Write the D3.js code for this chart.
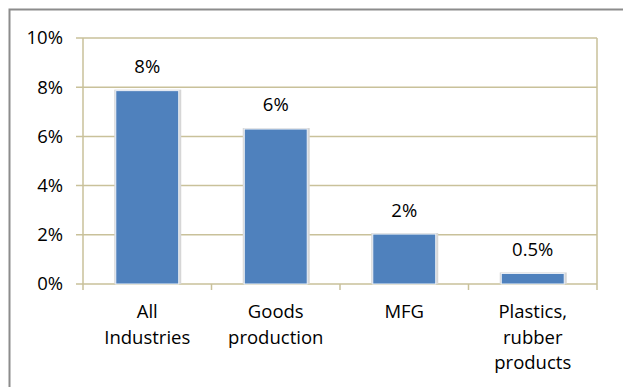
<!DOCTYPE html>
<html>
<head>
<meta charset="utf-8">
<script src="https://cdn.jsdelivr.net/npm/d3@7"></script>
<style>
  body { margin: 0; background: #fff; }
  svg { display: block; font-family: "Open Sans", Lato, sans-serif; }
</style>
</head>
<body>
<svg></svg>
<script>
// data
const categories = [['All', 'Industries'], ['Goods', 'production'], ['MFG'], ['Plastics,', 'rubber', 'products']]
const values = [7.86, 6.3, 2.03, 0.43]
const valueLabels = ['8%', '6%', '2%', '0.5%']
const yTicks = [0, 2, 4, 6, 8, 10]

const width = 623
const height = 387
const plotLeft = 83, plotRight = 597, plotTop = 38, plotBottom = 284
const fontSize = 18.5

const svg = d3.select('svg')
    .attr('width', width)
    .attr('height', height)

// outer frame (runs off right and bottom)
svg.append('rect')
    .attr('x', 9.5).attr('y', 9.5)
    .attr('width', 640).attr('height', 400)
    .attr('fill', 'none')
    .attr('stroke', '#8c8c8c')
    .attr('stroke-width', 2)

const xScale = d3.scaleBand()
    .domain(d3.range(values.length))
    .range([plotLeft, plotRight])
    .paddingInner(0.51)
    .paddingOuter(0.255)

const yScale = d3.scaleLinear()
    .domain([0, 10])
    .range([plotBottom, plotTop])

const gridColor = '#c9c19a'

// gridlines
svg.append('g').selectAll('line').data(yTicks).enter()
    .append('line')
    .attr('x1', plotLeft - 7).attr('x2', plotRight)
    .attr('y1', d => yScale(d)).attr('y2', d => yScale(d))
    .attr('stroke', gridColor)
    .attr('stroke-width', 1.5)

// axis lines
svg.append('line')
    .attr('x1', plotLeft).attr('x2', plotLeft)
    .attr('y1', plotTop).attr('y2', plotBottom + 6)
    .attr('stroke', gridColor).attr('stroke-width', 1.5)
svg.append('line')
    .attr('x1', plotRight).attr('x2', plotRight)
    .attr('y1', plotTop).attr('y2', plotBottom + 6)
    .attr('stroke', gridColor).attr('stroke-width', 1.5)

// category ticks
const step = (plotRight - plotLeft) / values.length
svg.append('g').selectAll('line').data(d3.range(1, values.length)).enter()
    .append('line')
    .attr('x1', i => plotLeft + step * i).attr('x2', i => plotLeft + step * i)
    .attr('y1', plotBottom).attr('y2', plotBottom + 6)
    .attr('stroke', gridColor).attr('stroke-width', 1.5)

// y tick labels
svg.append('g').selectAll('text').data(yTicks).enter()
    .append('text')
    .attr('x', 63)
    .attr('y', d => yScale(d))
    .attr('dy', '0.35em')
    .attr('text-anchor', 'end')
    .attr('font-size', fontSize)
    .attr('fill', '#000')
    .text(d => d + '%')

// bar shadows
svg.append('g').selectAll('rect').data(values).enter()
    .append('rect')
    .attr('x', (v, i) => xScale(i) - 1.5)
    .attr('y', v => yScale(v) - 1)
    .attr('width', xScale.bandwidth() + 4)
    .attr('height', v => plotBottom - yScale(v) + 1)
    .attr('fill', '#d6d6d6')

// bars
svg.append('g').selectAll('rect').data(values).enter()
    .append('rect')
    .attr('x', (v, i) => xScale(i))
    .attr('y', v => yScale(v))
    .attr('width', xScale.bandwidth())
    .attr('height', v => plotBottom - yScale(v))
    .attr('fill', '#4f81bd')
    .attr('stroke', '#eef2f8')
    .attr('stroke-width', 1)

// value labels
svg.append('g').selectAll('text').data(values).enter()
    .append('text')
    .attr('x', (v, i) => xScale(i) + xScale.bandwidth() / 2)
    .attr('y', v => yScale(v) - 24)
    .attr('dy', '0.35em')
    .attr('text-anchor', 'middle')
    .attr('font-size', fontSize)
    .text((v, i) => valueLabels[i])

// category labels
const cat = svg.append('g').selectAll('text').data(categories).enter()
    .append('text')
    .attr('text-anchor', 'middle')
    .attr('font-size', fontSize)
cat.selectAll('tspan').data((lines, i) => lines.map(l => ({ l, i }))).enter()
    .append('tspan')
    .attr('x', d => xScale(d.i) + xScale.bandwidth() / 2)
    .attr('y', (d, j) => 312 + j * 25.5)
    .attr('dy', '0.35em')
    .text(d => d.l)
</script>
</body>
</html>
